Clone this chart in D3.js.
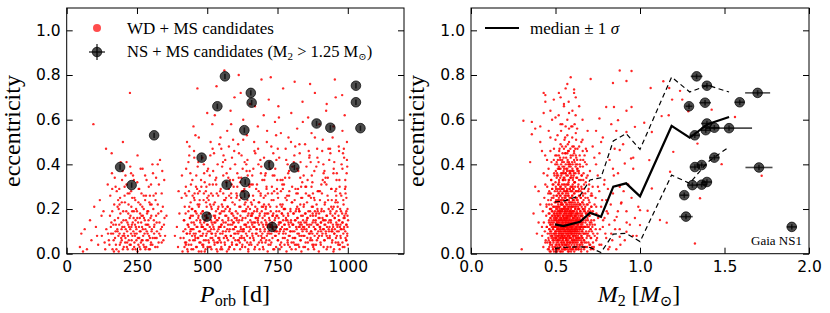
<!DOCTYPE html>
<head>
  <meta charset="utf-8">
  <script src="https://cdn.jsdelivr.net/npm/d3@7"></script>
</head>
<body style="margin:0;background:#fff">
  <script>
    // WD + MS candidates, [P_orb (d), eccentricity]
    var wdPorbEcc = [
      [47,.03],[52,.09],[58,.01],[83,.15],[88,.06],[95,.58],[104,.12],[112,.04],[118,.24],[125,.08],[131,.19],[137,.02],[141,.11],[146,.31],[150,.06],[154,.17],[158,.09],[161,.36],[163,.02],[166,.13],[169,.22],[172,.07],[175,.04],[178,.28],[180,.11],[183,.16],[185,.01],[188,.09],[190,.25],[192,.05],[195,.14],[197,.33],[199,.08],[201,.19],[203,.03],[205,.12],[207,.23],[209,.07],[211,.15],[213,.41],[215,.10],[217,.02],[219,.18],[221,.06],[223,.27],[225,.72],[226,.11],[228,.04],[230,.21],[232,.13],[234,.08],[236,.35],[238,.16],[240,.03],[242,.09],[244,.24],[246,.12],[248,.06],[250,.19],[252,.01],[254,.14],[256,.29],[258,.07],[260,.10],[262,.22],[264,.05],[266,.17],[268,.12],[270,.38],[272,.08],[274,.20],[276,.03],[278,.15],[280,.11],[282,.26],[284,.06],[286,.18],[288,.09],[290,.13],[292,.02],[294,.23],[296,.07],[298,.16],[300,.31],[302,.10],[305,.04],[308,.20],[311,.12],[314,.07],[317,.27],[320,.14],[323,.03],[326,.18],[329,.09],[332,.42],[335,.11],[338,.05],[342,.21],[346,.13],[350,.08],[355,.17],[340,.37],[160,.45],[200,.50],[140,.47],[270,.06],[255,.04],[245,.15],[235,.02],[215,.05],[205,.08],[195,.11],[185,.20],[175,.13],[165,.09],[230,.12],[260,.16],[280,.02],[300,.05],[290,.19],[310,.15],[320,.07],
      [152,.04],[157,.12],[162,.19],[167,.06],[171,.15],[174,.10],[177,.02],[181,.21],[184,.08],[187,.13],[189,.04],[191,.18],[194,.07],[196,.23],[198,.12],[200,.02],[202,.15],[204,.09],[206,.26],[208,.05],[210,.11],[212,.19],[214,.03],[216,.14],[218,.08],[220,.22],[222,.12],[224,.04],[227,.17],[229,.09],[231,.06],[233,.25],[235,.14],[237,.10],[239,.19],[241,.05],[243,.13],[245,.02],[247,.20],[249,.09],[251,.16],[253,.07],[255,.23],[257,.12],[259,.03],[261,.18],[263,.10],[265,.14],[267,.06],[269,.21],[271,.11],[273,.04],[275,.16],[277,.09],[279,.24],[281,.13],[283,.03],[285,.10],[287,.19],[289,.06],[291,.15],[293,.08],[295,.12],[297,.22],[299,.04],[301,.17],[303,.11],[306,.07],[309,.26],[312,.13],[315,.03],[318,.17],[321,.10],[324,.22],[327,.05],[330,.14],[333,.08],[336,.19],[339,.12],[344,.06],[348,.16],[187,.29],[213,.31],[239,.33],[266,.27],[292,.30],[318,.34],[226,.39],[252,.44],[279,.35],[305,.40],[174,.30],[199,.37],[168,.01],[243,.08],[262,.02],[286,.13],[224,.16],[248,.11],[233,.19],[219,.13],[271,.17],[296,.02],[311,.09],[196,.06],[181,.10],[159,.14],[147,.09],[124,.17],[135,.05],[108,.08],[98,.21],[72,.02],[64,.11],
      [155,.26],[171,.34],[183,.24],[192,.41],[206,.30],[217,.27],[229,.36],[241,.25],[251,.32],[263,.38],[274,.26],[284,.33],[296,.26],[307,.36],[316,.24],[328,.31],[338,.27],[347,.33],[162,.29],[209,.35],[258,.29],[302,.22],[229,.28],[188,.22],[324,.40],
      [392,.12],[396,.03],[401,.18],[405,.07],[409,.25],[412,.01],[415,.10],[418,.15],[421,.05],[424,.30],[427,.09],[429,.02],[398,.28],[385,.08],[410,.35],
      [432,.13],[434,.04],[436,.21],[438,.09],[440,.36],[442,.17],[444,.02],[446,.11],[448,.26],[450,.06],[452,.14],[454,.43],[456,.08],[458,.19],[460,.03],[462,.12],[464,.29],[466,.07],[468,.16],[470,.01],[472,.22],[474,.10],[476,.05],[478,.33],[480,.13],[437,.48],[451,.57],[465,.74],[470,.52],[445,.20],[455,.24],[462,.18],[475,.15],[441,.11],[458,.07],
      [482,.08],[484,.19],[486,.04],[488,.27],[490,.11],[492,.15],[494,.02],[496,.23],[498,.09],[500,.37],[502,.13],[504,.06],[506,.18],[508,.31],[510,.10],[512,.03],[514,.21],[516,.14],[518,.07],[520,.26],[522,.12],[524,.45],[526,.05],[528,.17],[530,.09],[532,.34],[534,.15],[536,.01],[538,.20],[540,.11],[485,.12],[495,.06],[505,.24],[515,.09],[525,.14],[535,.05],[488,.40],[512,.50],[527,.62],[533,.75],[518,.58],[497,.16],[507,.03],[523,.22],[539,.07],
      [542,.16],[544,.06],[546,.28],[548,.12],[550,.03],[552,.19],[554,.09],[556,.41],[558,.14],[560,.24],[562,.05],[564,.17],[566,.10],[568,.32],[570,.07],[572,.21],[574,.13],[576,.02],[578,.26],[580,.11],[582,.38],[584,.08],[586,.18],[588,.04],[590,.23],[592,.14],[594,.30],[596,.09],[598,.16],[600,.06],[545,.12],[555,.21],[565,.08],[575,.15],[585,.27],[595,.11],[550,.47],[561,.82],[571,.55],[583,.64],[592,.51],[597,.70],[557,.35],[579,.19],[589,.13],[547,.02],[567,.25],
      [602,.12],[604,.25],[606,.04],[608,.18],[610,.09],[612,.34],[614,.15],[616,.07],[618,.21],[620,.11],[622,.44],[624,.03],[626,.16],[628,.28],[630,.10],[632,.19],[634,.06],[636,.23],[638,.13],[640,.37],[642,.08],[644,.17],[646,.02],[648,.26],[650,.12],[652,.20],[654,.05],[656,.31],[658,.14],[660,.09],[605,.15],[615,.24],[625,.10],[635,.13],[645,.21],[655,.17],[610,.49],[628,.60],[641,.53],[652,.67],[619,.72],[633,.41],[607,.30],[623,.07],[637,.19],[649,.04],[659,.22],
      [662,.18],[664,.07],[666,.24],[668,.12],[670,.03],[672,.16],[674,.29],[676,.09],[678,.20],[680,.14],[682,.40],[684,.05],[686,.17],[688,.11],[690,.26],[692,.08],[694,.19],[696,.33],[698,.13],[700,.02],[702,.22],[704,.10],[706,.15],[708,.36],[710,.06],[712,.18],[714,.12],[716,.27],[718,.04],[720,.16],[665,.14],[675,.11],[685,.23],[695,.07],[705,.18],[715,.09],[668,.46],[680,.57],[693,.78],[701,.62],[712,.50],[719,.69],[677,.31],[689,.42],[699,.21],[709,.13],
      [722,.09],[724,.21],[726,.13],[728,.05],[730,.30],[732,.17],[734,.11],[736,.24],[738,.02],[740,.15],[742,.38],[744,.08],[746,.19],[748,.12],[750,.27],[752,.06],[754,.16],[756,.43],[758,.10],[760,.22],[762,.14],[764,.03],[766,.18],[768,.33],[770,.09],[772,.20],[774,.13],[776,.07],[778,.25],[780,.15],[725,.12],[735,.18],[745,.10],[755,.14],[765,.21],[775,.11],[728,.48],[741,.59],[753,.66],[762,.54],[770,.74],[779,.47],[733,.35],[748,.29],[759,.04],[771,.17],
      [782,.11],[784,.26],[786,.05],[788,.17],[790,.13],[792,.34],[794,.08],[796,.20],[798,.14],[800,.02],[802,.23],[804,.10],[806,.18],[808,.41],[810,.07],[812,.15],[814,.29],[816,.12],[818,.04],[820,.21],[822,.16],[824,.37],[826,.09],[828,.19],[830,.13],[832,.06],[834,.25],[836,.11],[838,.32],[840,.17],[785,.15],[795,.10],[805,.13],[815,.19],[825,.12],[835,.08],[789,.52],[799,.63],[811,.77],[820,.56],[829,.45],[839,.68],[803,.39],[817,.27],[827,.03],[833,.14],
      [842,.08],[844,.22],[846,.14],[848,.03],[850,.18],[852,.30],[854,.10],[856,.16],[858,.05],[860,.26],[862,.12],[864,.44],[866,.19],[868,.07],[870,.13],[872,.35],[874,.09],[876,.21],[878,.15],[880,.02],[882,.24],[884,.11],[886,.17],[888,.39],[890,.06],[892,.20],[894,.13],[896,.28],[898,.08],[900,.16],[845,.11],[855,.13],[865,.09],[875,.18],[885,.14],[895,.10],[848,.49],[859,.61],[871,.54],[883,.72],[891,.47],[899,.58],[857,.33],[869,.25],[879,.04],[893,.19],
      [902,.12],[904,.04],[906,.19],[908,.27],[910,.09],[912,.15],[914,.36],[916,.06],[918,.22],[920,.13],[922,.10],[924,.31],[926,.17],[928,.03],[930,.24],[932,.11],[934,.42],[936,.08],[938,.18],[940,.14],[942,.29],[944,.05],[946,.20],[948,.12],[950,.38],[952,.09],[954,.16],[956,.23],[958,.07],[960,.13],[905,.14],[915,.11],[925,.08],[935,.15],[945,.10],[955,.18],[911,.51],[923,.64],[937,.47],[949,.57],[957,.70],[929,.34],[941,.21],[951,.02],[959,.26],
      [962,.10],[964,.21],[966,.05],[968,.15],[970,.33],[972,.12],[974,.08],[976,.19],[978,.40],[980,.14],[982,.03],[984,.24],[986,.11],[988,.17],[990,.29],[992,.07],[994,.13],[996,.36],[998,.09],[999,.20],[965,.13],[975,.11],[985,.16],[995,.06],[969,.46],[981,.55],[989,.62],[997,.50],[973,.27],[987,.43],[993,.18],[999,.12],[1001,.15],[1000,.04],
      [416,.07],[417,.15],[419,.03],[420,.21],[422,.11],[423,.18],[425,.05],[426,.26],[428,.09],[430,.13],[431,.01],[433,.19],[434,.12],[435,.28],[437,.06],[439,.16],[440,.10],[441,.23],[443,.04],[444,.14],[446,.08],[447,.20],[449,.17],[450,.02],[451,.11],[453,.25],[455,.13],[456,.06],[457,.19],[459,.09],[460,.30],[462,.15],[463,.03],[465,.12],[466,.22],[468,.07],[469,.17],[471,.10],[472,.05],[473,.24],[475,.14],[476,.08],[478,.18],[479,.01],[480,.12],[467,.27],[452,.09],[438,.16],[424,.04],[470,.21],
      [481,.12],[482,.04],[484,.19],[485,.09],[487,.24],[488,.06],[489,.14],[491,.01],[492,.17],[494,.11],[495,.28],[496,.08],[498,.21],[499,.13],[501,.03],[502,.16],[503,.10],[505,.26],[506,.05],[508,.18],[509,.12],[510,.22],[512,.07],[513,.15],[515,.02],[516,.20],[517,.09],[519,.13],[520,.31],[522,.06],[523,.17],[524,.11],[526,.04],[527,.23],[529,.14],[530,.08],[531,.19],[533,.02],[534,.27],[536,.10],[537,.15],[538,.05],[540,.21],[541,.12],[543,.07],[544,.18],[486,.03],[500,.25],[514,.11],[528,.16],
      [546,.09],[547,.18],[549,.05],[550,.13],[552,.22],[553,.02],[554,.15],[556,.10],[557,.27],[559,.07],[560,.19],[561,.12],[563,.04],[564,.24],[566,.14],[567,.08],[568,.17],[570,.01],[571,.11],[573,.21],[574,.06],[575,.16],[577,.29],[578,.10],[580,.03],[581,.20],[582,.13],[584,.08],[585,.25],[587,.15],[588,.05],[589,.18],[591,.11],[592,.33],[594,.07],[595,.14],[596,.02],[598,.22],[599,.12],[601,.09],[602,.19],[603,.04],[605,.16],[606,.26],[608,.10],[609,.06],[551,.13],[565,.20],[579,.03],[593,.17],
      [611,.14],[612,.06],[614,.21],[615,.10],[617,.02],[618,.17],[619,.12],[621,.25],[622,.08],[624,.15],[625,.04],[626,.19],[628,.11],[629,.28],[631,.07],[632,.13],[633,.22],[635,.03],[636,.16],[638,.09],[639,.20],[640,.12],[642,.05],[643,.24],[645,.14],[646,.01],[647,.18],[649,.10],[650,.30],[652,.07],[653,.15],[654,.11],[656,.23],[657,.04],[659,.17],[660,.13],[661,.08],[663,.26],[664,.12],[666,.06],[667,.19],[668,.02],[670,.14],[671,.21],[673,.09],[674,.16],[616,.05],[630,.11],[644,.35],[658,.18],
      [676,.11],[677,.19],[679,.04],[680,.15],[682,.08],[683,.23],[684,.13],[686,.02],[687,.18],[689,.10],[690,.27],[691,.06],[693,.14],[694,.21],[696,.09],[697,.16],[698,.03],[700,.12],[701,.25],[703,.07],[704,.17],[705,.11],[707,.05],[708,.20],[710,.14],[711,.29],[712,.08],[714,.13],[715,.01],[717,.18],[718,.10],[719,.22],[721,.06],[722,.15],[724,.12],[725,.04],[726,.19],[728,.09],[729,.24],[731,.14],[732,.07],[733,.17],[735,.02],[736,.12],[738,.28],[739,.10],[681,.16],[695,.05],[709,.21],[723,.13],
      [741,.08],[742,.16],[744,.12],[745,.03],[747,.21],[748,.10],[749,.17],[751,.06],[752,.25],[754,.13],[755,.09],[756,.19],[758,.02],[759,.14],[761,.11],[762,.28],[763,.05],[765,.18],[766,.12],[768,.22],[769,.07],[770,.15],[772,.10],[773,.31],[775,.04],[776,.13],[777,.20],[779,.09],[780,.16],[782,.01],[783,.24],[784,.11],[786,.06],[787,.18],[789,.14],[790,.08],[791,.26],[793,.12],[794,.03],[796,.19],[797,.10],[798,.15],[800,.05],[801,.23],[803,.13],[804,.07],[746,.17],[760,.11],[774,.20],[788,.04],
      [806,.13],[807,.05],[808,.18],[810,.10],[811,.24],[813,.07],[814,.15],[815,.02],[817,.20],[818,.11],[820,.16],[821,.09],[822,.27],[824,.04],[825,.14],[827,.19],[828,.08],[829,.12],[831,.22],[832,.06],[834,.17],[835,.01],[836,.13],[838,.25],[839,.10],[841,.15],[842,.03],[843,.21],[845,.12],[846,.08],[848,.18],[849,.30],[850,.05],[852,.14],[853,.11],[855,.23],[856,.07],[857,.16],[859,.02],[860,.19],[862,.09],[863,.13],[864,.26],[866,.06],[867,.17],[869,.10],[812,.04],[826,.20],[840,.12],[854,.15],
      [870,.10],[872,.21],[873,.06],[875,.14],[876,.17],[877,.03],[879,.12],[880,.25],[882,.08],[883,.19],[884,.11],[886,.15],[887,.04],[889,.22],[890,.13],[891,.09],[893,.28],[894,.07],[896,.16],[897,.01],[898,.18],[900,.12],[901,.24],[903,.05],[904,.14],[905,.10],[907,.20],[908,.08],[910,.16],[911,.33],[912,.11],[914,.03],[915,.19],[917,.13],[918,.06],[919,.23],[921,.15],[922,.09],[924,.17],[925,.02],[926,.12],[928,.26],[929,.07],[931,.14],[932,.20],[933,.10],[874,.04],[888,.18],[902,.11],[916,.15],
      [935,.12],[936,.07],[938,.19],[939,.03],[940,.15],[942,.10],[943,.24],[945,.06],[946,.17],[947,.13],[949,.01],[950,.21],[952,.09],[953,.16],[954,.11],[956,.28],[957,.05],[959,.14],[960,.19],[961,.08],[963,.12],[964,.23],[966,.04],[967,.17],[968,.10],[970,.15],[971,.02],[973,.20],[974,.13],[975,.07],[977,.26],[978,.11],[980,.18],[981,.05],[982,.14],[984,.09],[985,.22],[987,.12],[988,.03],[989,.16],[991,.10],[992,.30],[994,.06],[995,.19],[996,.13],[998,.08],[999,.17],[944,.11],[958,.24],[972,.04],
      [425,.38],[447,.33],[468,.41],[489,.36],[511,.44],[532,.31],[553,.39],[575,.34],[596,.46],[617,.32],[639,.40],[660,.35],[681,.47],[703,.33],[724,.38],[746,.42],[767,.31],[788,.36],[810,.44],[831,.34],[853,.39],[874,.32],[896,.41],[917,.37],[938,.45],[960,.33],[981,.38],[997,.42],[436,.44],[479,.30],[521,.37],[564,.42],[607,.36],[649,.31],[692,.39],[735,.45],[777,.34],[820,.38],[863,.43],[906,.31],[949,.36],[991,.33],[458,.53],[543,.49],[628,.51],[713,.55],[798,.50],[883,.52],[968,.48],[500,.63],[585,.58],[670,.66],[755,.61],[840,.59],[925,.67],[980,.71],[612,.80],[726,.79],[866,.76],[954,.78],
      [421,.27],[433,.41],[442,.31],[453,.46],[461,.35],[473,.28],[483,.43],[491,.32],[503,.38],[514,.27],[519,.47],[529,.33],[537,.40],[548,.29],[558,.44],[569,.36],[577,.48],[587,.31],[599,.40],[604,.27],[613,.45],[621,.34],[632,.29],[643,.42],[651,.37],[662,.31],[671,.45],[683,.28],[691,.36],[702,.43],[711,.30],[721,.41],[730,.27],[739,.35],[751,.47],[761,.33],[769,.29],[781,.42],[791,.37],[802,.30],[813,.48],[823,.29],[832,.41],[843,.35],[851,.27],[861,.46],[871,.30],[881,.37],[892,.43],[901,.28],[913,.40],[921,.34],[931,.47],[941,.29],[952,.41],[961,.36],[971,.30],[983,.45],[992,.27],[998,.39],
      [428,.50],[466,.39],[509,.35],[547,.52],[588,.43],[626,.38],[667,.50],[706,.35],[745,.53],[786,.40],[828,.49],[868,.41],[909,.46],[946,.52],[986,.47],[455,.27],[497,.30],[539,.26],[581,.33],[623,.28],[664,.38],[707,.26],[749,.33],[792,.28],[834,.30],[876,.27],[918,.32],[959,.29],[995,.25]
    ];

    // WD + MS candidates, [M2 (Msun), eccentricity]
    var wdMassEcc = [
      [.448,.12],[.452,.05],[.447,.21],[.454,.09],[.451,.30],
      [.458,.07],[.462,.15],[.461,.02],[.457,.24],[.463,.11],[.459,.38],[.460,.18],
      [.468,.04],[.472,.13],[.471,.08],[.467,.20],[.473,.27],[.469,.10],[.470,.16],[.474,.33],[.466,.01],
      [.478,.09],[.482,.03],[.481,.14],[.477,.22],[.483,.06],[.479,.17],[.480,.29],[.484,.11],[.476,.41],[.482,.19],[.478,.25],
      [.488,.05],[.492,.12],[.491,.18],[.487,.02],[.493,.09],[.489,.26],[.490,.14],[.494,.35],[.486,.07],[.492,.21],[.488,.31],[.491,.47],[.489,.16],
      [.498,.08],[.502,.13],[.501,.03],[.497,.19],[.503,.24],[.499,.10],[.500,.06],[.504,.16],[.496,.28],[.502,.37],[.498,.12],[.501,.21],[.499,.44],[.503,.01],[.497,.15],[.500,.32],
      [.508,.04],[.512,.11],[.511,.17],[.507,.07],[.513,.23],[.509,.14],[.510,.02],[.514,.29],[.506,.09],[.512,.20],[.508,.35],[.511,.12],[.509,.26],[.513,.06],[.507,.41],[.510,.18],[.512,.53],[.508,.15],
      [.518,.06],[.522,.10],[.521,.15],[.517,.02],[.523,.19],[.519,.08],[.520,.24],[.524,.13],[.516,.31],[.522,.04],[.518,.17],[.521,.27],[.519,.11],[.523,.38],[.517,.21],[.520,.09],[.522,.46],[.518,.14],[.521,.33],[.519,.62],
      [.528,.03],[.532,.12],[.531,.07],[.527,.18],[.533,.22],[.529,.10],[.530,.15],[.534,.05],[.526,.26],[.532,.13],[.528,.30],[.531,.09],[.529,.19],[.533,.36],[.527,.01],[.530,.24],[.532,.16],[.528,.42],[.531,.11],[.529,.28],[.533,.55],[.530,.70],
      [.538,.08],[.542,.14],[.541,.04],[.537,.20],[.543,.11],[.539,.25],[.540,.06],[.544,.17],[.536,.12],[.542,.29],[.538,.02],[.541,.22],[.539,.09],[.543,.33],[.537,.15],[.540,.19],[.542,.39],[.538,.13],[.541,.27],[.539,.48],[.543,.07],[.537,.23],[.540,.58],[.542,.10],
      [.548,.05],[.552,.11],[.551,.16],[.547,.09],[.553,.21],[.549,.13],[.550,.02],[.554,.26],[.546,.07],[.552,.18],[.548,.31],[.551,.12],[.549,.24],[.553,.04],[.547,.36],[.550,.15],[.552,.20],[.548,.43],[.551,.10],[.549,.28],[.553,.51],[.547,.17],[.550,.66],[.552,.08],[.548,.34],
      [.558,.10],[.562,.04],[.561,.14],[.557,.19],[.563,.07],[.559,.23],[.560,.12],[.564,.28],[.556,.02],[.562,.16],[.558,.33],[.561,.09],[.559,.21],[.563,.38],[.557,.13],[.560,.25],[.562,.06],[.558,.45],[.561,.18],[.559,.30],[.563,.11],[.557,.52],[.560,.74],[.562,.27],[.558,.15],[.561,.40],
      [.568,.06],[.572,.13],[.571,.02],[.567,.17],[.573,.10],[.569,.22],[.570,.08],[.574,.26],[.566,.15],[.572,.31],[.568,.04],[.571,.19],[.569,.12],[.573,.35],[.567,.24],[.570,.09],[.572,.42],[.568,.16],[.571,.28],[.569,.05],[.573,.49],[.567,.20],[.570,.60],[.572,.11],[.568,.37],[.571,.14],
      [.578,.09],[.582,.15],[.581,.05],[.577,.20],[.583,.12],[.579,.01],[.580,.24],[.584,.07],[.576,.17],[.582,.29],[.578,.11],[.581,.33],[.579,.14],[.583,.22],[.577,.03],[.580,.39],[.582,.18],[.578,.26],[.581,.08],[.579,.46],[.583,.13],[.577,.31],[.580,.56],[.582,.10],[.578,.68],[.581,.21],
      [.588,.07],[.592,.12],[.591,.18],[.587,.03],[.593,.23],[.589,.10],[.590,.15],[.594,.28],[.586,.05],[.592,.20],[.588,.34],[.591,.13],[.589,.25],[.593,.09],[.587,.40],[.590,.17],[.592,.02],[.588,.47],[.591,.11],[.589,.30],[.593,.57],[.587,.19],[.590,.79],[.592,.14],[.588,.36],
      [.598,.11],[.602,.05],[.601,.16],[.597,.21],[.603,.08],[.599,.26],[.600,.13],[.604,.02],[.596,.18],[.602,.31],[.598,.10],[.601,.23],[.599,.37],[.603,.15],[.597,.06],[.600,.28],[.602,.44],[.598,.12],[.601,.19],[.599,.52],[.603,.33],[.597,.09],[.600,.64],[.602,.24],
      [.608,.08],[.612,.14],[.611,.03],[.607,.19],[.613,.11],[.609,.24],[.610,.06],[.614,.17],[.606,.29],[.612,.10],[.608,.35],[.611,.21],[.609,.13],[.613,.41],[.607,.16],[.610,.27],[.612,.04],[.608,.48],[.611,.32],[.609,.09],[.613,.58],[.610,.72],
      [.618,.10],[.622,.05],[.621,.15],[.617,.20],[.623,.12],[.619,.25],[.620,.02],[.624,.18],[.616,.30],[.622,.08],[.618,.36],[.621,.14],[.619,.22],[.623,.43],[.617,.11],[.620,.28],[.622,.51],[.618,.17],[.621,.07],[.619,.62],
      [.628,.06],[.632,.13],[.631,.18],[.627,.09],[.633,.23],[.629,.15],[.630,.03],[.634,.28],[.626,.11],[.632,.20],[.628,.34],[.631,.16],[.629,.40],[.633,.07],[.627,.25],[.630,.47],[.632,.12],[.628,.56],
      [.638,.09],[.642,.15],[.641,.04],[.637,.20],[.643,.12],[.639,.26],[.640,.07],[.644,.18],[.636,.31],[.642,.10],[.638,.37],[.641,.22],[.639,.14],[.643,.44],[.637,.02],[.640,.29],
      [.648,.11],[.652,.05],[.651,.17],[.647,.22],[.653,.08],[.649,.28],[.650,.14],[.654,.35],[.646,.19],[.652,.02],[.648,.42],[.651,.12],[.649,.25],[.653,.50],
      [.658,.07],[.662,.14],[.661,.20],[.657,.10],[.663,.26],[.659,.04],[.660,.17],[.664,.33],[.656,.12],[.662,.39],[.658,.23],[.661,.46],
      [.668,.09],[.672,.16],[.671,.03],[.667,.22],[.673,.12],[.669,.29],[.670,.06],[.674,.19],[.666,.36],[.672,.44],
      [.678,.12],[.682,.05],[.681,.18],[.677,.25],[.683,.09],[.679,.32],[.680,.15],[.684,.40],[.676,.21],
      [.688,.08],[.692,.15],[.691,.22],[.687,.03],[.693,.28],[.689,.12],[.690,.35],[.692,.18],
      [.698,.10],[.702,.17],[.701,.04],[.697,.24],[.703,.13],[.699,.31],[.700,.20],
      [.708,.07],[.712,.14],[.711,.21],[.707,.11],[.713,.27],[.709,.02],
      [.718,.12],[.722,.05],[.721,.19],[.717,.26],[.723,.09],
      [.728,.15],[.732,.08],[.731,.22],[.727,.03],
      [.738,.11],[.742,.18],[.741,.06],[.737,.25],
      [.748,.09],[.752,.16],[.751,.30],
      [.460,.06],[.461,.14],[.462,.22],[.463,.03],[.464,.11],[.465,.18],[.466,.09],[.467,.27],[.468,.13],[.469,.05],[.470,.20],[.471,.16],[.472,.01],[.473,.24],[.474,.10],[.475,.33],[.476,.07],[.477,.15],[.478,.12],[.479,.19],[.480,.04],[.481,.29],[.482,.08],[.483,.17],[.484,.13],[.485,.02],[.486,.21],[.487,.11],[.488,.25],[.489,.06],[.490,.15],[.491,.09],[.492,.36],[.493,.18],[.494,.03],[.495,.12],[.496,.23],[.497,.07],[.498,.16],[.499,.10],[.463,.28],[.467,.05],[.471,.14],[.475,.20],[.479,.08],[.483,.31],[.487,.12],[.491,.01],[.495,.17],[.499,.40],
      [.500,.09],[.500,.17],[.501,.04],[.501,.23],[.502,.12],[.502,.30],[.503,.07],[.503,.15],[.504,.20],[.504,.02],[.505,.13],[.505,.26],[.506,.10],[.506,.18],[.507,.05],[.507,.34],[.508,.14],[.508,.08],[.509,.21],[.509,.11],[.510,.01],[.510,.16],[.511,.28],[.511,.06],[.512,.19],[.512,.13],[.513,.24],[.513,.03],[.514,.11],[.514,.38],[.515,.17],[.515,.08],[.516,.22],[.516,.14],[.517,.05],[.517,.27],[.518,.10],[.518,.19],[.519,.12],[.519,.02],[.520,.15],[.520,.25],[.521,.07],[.521,.32],[.522,.18],[.522,.09],[.523,.13],[.523,.04],[.524,.21],[.524,.16],[.525,.11],[.525,.29],[.526,.06],[.526,.20],[.527,.14],[.527,.43],[.528,.08],[.528,.17],[.529,.03],[.529,.23],[.530,.12],[.530,.19],[.531,.07],[.531,.26],[.532,.10],[.532,.15],[.533,.01],[.533,.22],[.534,.13],[.534,.35],[.535,.09],[.535,.18],[.536,.05],[.536,.24],[.537,.11],[.537,.16],[.538,.31],[.538,.08],[.539,.20],[.539,.14],
      [.540,.12],[.540,.04],[.541,.19],[.541,.27],[.542,.08],[.542,.15],[.543,.22],[.543,.01],[.544,.11],[.544,.17],[.545,.33],[.545,.06],[.546,.14],[.546,.24],[.547,.09],[.547,.20],[.548,.03],[.548,.13],[.549,.29],[.549,.16],[.550,.07],[.550,.21],[.551,.11],[.551,.38],[.552,.05],[.552,.18],[.553,.12],[.553,.25],[.554,.02],[.554,.15],[.555,.10],[.555,.31],[.556,.19],[.556,.08],[.557,.14],[.557,.23],[.558,.04],[.558,.17],[.559,.12],[.559,.45],[.560,.07],[.560,.20],[.561,.13],[.561,.02],[.562,.26],[.562,.10],[.563,.16],[.563,.06],[.564,.22],[.564,.14],[.565,.35],[.565,.09],[.566,.18],[.566,.03],[.567,.12],[.567,.28],[.568,.07],[.568,.19],[.569,.15],[.569,.11],[.570,.24],[.570,.05],[.571,.17],[.571,.41],[.572,.10],[.572,.13],[.573,.21],[.573,.08],[.574,.01],[.574,.16],[.575,.27],[.575,.12],[.576,.06],[.576,.20],[.577,.14],[.577,.32],[.578,.09],[.578,.18],[.579,.04],[.579,.23],[.580,.11],[.580,.15],[.581,.37],[.581,.07],[.582,.19],[.582,.13],[.583,.02],[.583,.25],[.584,.10],[.584,.17],
      [.585,.08],[.585,.16],[.586,.23],[.586,.03],[.587,.12],[.587,.19],[.588,.10],[.588,.28],[.589,.05],[.589,.14],[.590,.21],[.590,.09],[.591,.17],[.591,.34],[.592,.01],[.592,.13],[.593,.25],[.593,.07],[.594,.18],[.594,.11],[.595,.22],[.595,.04],[.596,.15],[.596,.30],[.597,.09],[.597,.12],[.598,.19],[.598,.06],[.599,.26],[.599,.14],[.600,.02],[.600,.17],[.601,.10],[.601,.40],[.602,.08],[.602,.21],[.603,.13],[.603,.05],[.604,.24],[.604,.16],[.605,.11],[.605,.29],[.606,.07],[.606,.18],[.607,.03],[.607,.14],[.608,.22],[.608,.10],[.609,.36],[.609,.12],[.610,.06],[.610,.19],[.611,.15],[.611,.01],[.612,.27],[.612,.09],[.613,.17],[.613,.13],[.614,.23],[.614,.05],[.615,.11],[.615,.32],[.616,.16],[.616,.08],[.617,.20],[.617,.14],[.618,.03],[.618,.25],[.619,.10],[.619,.18],[.620,.44],[.620,.06],[.621,.12],[.621,.21],[.622,.15],[.622,.09],[.623,.28],[.623,.02],[.624,.17],[.624,.13],[.625,.24],[.625,.07],[.626,.19],[.626,.11],[.627,.38],[.627,.04],[.628,.16],[.628,.22],[.629,.10],[.629,.14],
      [.630,.10],[.631,.18],[.631,.05],[.632,.24],[.633,.13],[.633,.08],[.634,.21],[.635,.15],[.635,.02],[.636,.28],[.637,.11],[.637,.17],[.638,.06],[.639,.33],[.639,.14],[.640,.09],[.641,.20],[.641,.03],[.642,.12],[.643,.26],[.643,.16],[.644,.07],[.645,.22],[.645,.11],[.646,.39],[.647,.04],[.647,.15],[.648,.19],[.649,.09],[.649,.13],[.650,.25],[.651,.06],[.651,.17],[.652,.01],[.653,.30],[.653,.12],[.654,.08],[.655,.21],[.655,.14],[.656,.35],[.657,.05],[.657,.18],[.658,.10],[.659,.23],[.659,.13],[.660,.07],[.661,.27],[.661,.16],[.662,.03],[.663,.20],[.663,.11],[.664,.42],[.665,.09],[.665,.15],[.666,.24],[.667,.06],[.667,.12],[.668,.19],[.669,.02],[.669,.31],
      [.671,.12],[.672,.05],[.673,.20],[.675,.09],[.676,.27],[.677,.14],[.679,.03],[.680,.18],[.681,.10],[.683,.34],[.684,.07],[.685,.22],[.687,.13],[.688,.01],[.689,.16],[.691,.25],[.692,.09],[.693,.19],[.695,.05],[.696,.29],[.697,.12],[.699,.17],[.700,.08],[.701,.23],[.703,.14],[.704,.37],[.705,.04],[.707,.19],[.708,.11],[.709,.26],[.711,.07],[.712,.15],[.713,.21],[.715,.10],[.716,.03],[.717,.18],[.719,.13],[.720,.30],[.674,.41],[.686,.46],
      [.503,.29],[.509,.36],[.514,.42],[.519,.31],[.524,.47],[.528,.34],[.533,.40],[.537,.29],[.542,.45],[.546,.33],[.551,.39],[.555,.28],[.559,.36],[.563,.43],[.566,.31],[.570,.38],[.574,.46],[.578,.33],[.582,.40],[.586,.29],[.590,.44],[.594,.35],[.598,.41],[.602,.30],[.606,.37],[.610,.45],[.614,.32],[.619,.39],[.623,.34],[.628,.42],[.633,.30],[.638,.36],[.644,.40],[.650,.33],[.656,.29],[.516,.35],[.531,.30],[.548,.37],[.561,.48],[.576,.40],[.589,.37],[.604,.34],[.617,.47],[.631,.38],[.507,.44],[.521,.38],[.539,.41],[.553,.34],[.568,.29],[.584,.36],
      [.421,.08],[.425,.19],[.428,.03],[.431,.14],[.434,.25],[.437,.10],[.440,.31],[.442,.06],[.445,.17],[.447,.22],[.449,.12],[.452,.35],[.455,.02],[.457,.27],[.439,.44],
      [.51,.40],[.52,.44],[.53,.49],[.54,.42],[.55,.47],[.56,.36],[.57,.45],[.58,.50],[.59,.43],[.60,.38],[.61,.46],[.62,.40],[.63,.37],[.64,.48],[.53,.38],[.55,.41],[.57,.53],[.59,.39],[.61,.42],[.56,.57],[.58,.41],[.60,.48],[.50,.51],[.52,.39],[.54,.36],[.62,.54],[.66,.51],[.68,.47],[.49,.42],[.47,.46],
      [.725,.02],[.733,.13],[.741,.21],[.746,.07],[.754,.17],[.759,.28],[.763,.11],[.771,.04],[.776,.24],[.782,.15],[.788,.31],[.795,.09],[.803,.19],[.812,.02],[.818,.13],[.827,.22],[.836,.06],[.845,.35],[.853,.11],[.869,.19],[.884,.04],[.903,.28],[.921,.14],[.958,.08],[.99,.21],
      [.30,.02],[.35,.41],[.36,.59],[.38,.56],[.37,.18],[.39,.09],[.40,.28],[.41,.50],[.42,.12],[.43,.36],[.44,.05],[.42,.46],[.41,.22],[.43,.63],[.44,.68],[.40,.14],[.38,.30],[.44,.71],[.43,.72],[.45,.42],[.46,.55],[.47,.52],[.48,.60],
      [.31,.595],[.36,.535],[.41,.57],[.52,.72],[.61,.735],[.708,.782],[.88,.82],[.95,.818],[.92,.773],[.84,.764],[1.063,.742],[1.138,.772],[1.173,.742],[1.237,.729],[1.19,.69],[1.25,.69],[1.128,.616],[1.17,.62],[1.286,.638],[1.424,.645],[1.562,.612],[1.34,.493],[1.197,.456],[.88,.464],[.92,.545],[.97,.568],[1.025,.586],[1.07,.545],[.80,.657],[.846,.657],[.92,.64],[.95,.657],[.87,.598],[.76,.605],
      [1.178,.367],[1.055,.419],[.947,.426],[.96,.43],[.91,.404],[1.07,.292],[1.0,.195],[1.045,.192],[1.118,.151],[1.158,.139],[1.0,.128],[.88,.076],[.92,.098],[1.325,.046],[1.483,.401],[1.72,.349],[1.355,.248],[.888,.225],[.862,.165],
      [.76,.04],[.77,.21],[.78,.12],[.79,.33],[.80,.07],[.81,.18],[.82,.42],[.83,.09],[.84,.27],[.85,.15],[.86,.02],[.87,.36],[.88,.11],[.89,.23],[.90,.49],[.91,.06],[.92,.19],[.93,.31],[.94,.13],[.96,.38],[.98,.08],[.76,.45],[.78,.52],[.79,.16],[.81,.29],[.83,.58],[.85,.47],[.74,.40],[.75,.35],[.77,.50],[.80,.24],[.82,.03],[.84,.38],[.86,.55],[.88,.30],[.73,.43],[.74,.55],[.72,.48],[.95,.25],[.97,.16],
      [.47,.64],[.49,.69],[.50,.61],[.58,.63],[.64,.66],[.66,.60],[.69,.55],[.62,.70],[.57,.76],[.53,.58],[.60,.57],[.55,.67]
    ];

    // NS + MS candidates (M2 > 1.25 Msun)
    var nsPorb    = [563, 1029, 655, 1029, 658, 536, 889, 938, 1045, 632, 311, 480, 720, 190, 810, 231, 569, 635, 633, 498, 731];
    var nsEcc     = [.794, .752, .720, .678, .676, .660, .583, .564, .562, .553, .530, .430, .397, .388, .386, .307, .309, .321, .262, .166, .120];
    var nsEccErr  = [.012, .012, .012, .012, .012, .012, .012, .012, .012, .012, .012, .012, .012, .012, .012, .012, .012, .012, .012, .012, .012];
    var nsMass    = [1.335, 1.396, 1.696, 1.590, 1.385, 1.290, 1.396, 1.440, 1.527, 1.389, 1.324, 1.440, 1.365, 1.325, 1.704, 1.310, 1.365, 1.396, 1.262, 1.272, 1.898];
    var nsMassErr = [.035, .030, .074, .030, .035, .020, .035, .030, .136, .030, .030, .030, .030, .030, .080, .030, .030, .030, .025, .040, .030];

    // binned median and +/- 1 sigma in M2
    var medMass  = [.497, .546, .645, .704, .769, .842, .918, 1.0, 1.187, 1.294, 1.40, 1.527];
    var medEcc   = [.131, .124, .143, .183, .165, .300, .315, .257, .572, .519, .580, .612];
    var medUpper = [.232, .235, .260, .330, .340, .505, .538, .467, .791, .724, .754, .724];
    var medLower = [.024, .028, .031, .028, .005, .088, .091, .054, .352, .315, .410, .478];

    var eccTicks  = [0, 0.2, 0.4, 0.6, 0.8, 1.0];
    var porbTicks = [0, 250, 500, 750, 1000];
    var massTicks = [0, 0.5, 1.0, 1.5, 2.0];

    var serif = "'Liberation Serif', 'DejaVu Serif', serif";
    var sans = "'DejaVu Sans', sans-serif";
    var nsFill = "rgba(0,0,0,0.7)";

    var svg = d3.select("body").append("svg")
      .attr("width", 830)
      .attr("height", 313);

    var y = d3.scaleLinear().domain([0, 1.1]).range([253.7, 8]);
    var xP = d3.scaleLinear().domain([0, 1200]).range([66.7, 404]);
    var xM = d3.scaleLinear().domain([0, 2]).range([471, 809]);

    function drawAxes(x, xFmt, xTicks) {
      var g = svg.append("g");
      var x0 = x.range()[0], x1 = x.range()[1];
      var y0 = y.range()[0], y1 = y.range()[1];

      g.append("g").attr("transform", "translate(0," + y0 + ")")
        .call(d3.axisBottom(x).tickValues(xTicks).tickSize(-6).tickPadding(7).tickFormat(xFmt));
      g.append("g").attr("transform", "translate(0," + y1 + ")")
        .call(d3.axisTop(x).tickValues(xTicks).tickSize(-6).tickFormat(""));
      g.append("g").attr("transform", "translate(" + x0 + ",0)")
        .call(d3.axisLeft(y).tickValues(eccTicks).tickSize(-6).tickPadding(6).tickFormat(d3.format(".1f")));
      g.append("g").attr("transform", "translate(" + x1 + ",0)")
        .call(d3.axisRight(y).tickValues(eccTicks).tickSize(-6).tickFormat(""));

      g.selectAll(".domain").remove();
      g.selectAll(".tick line").attr("stroke", "#000").attr("stroke-width", 1);
      g.selectAll("text")
        .attr("font-family", sans)
        .attr("font-size", 15.5)
        .attr("fill", "#000");

      g.append("rect")
        .attr("x", x0).attr("y", y1)
        .attr("width", x1 - x0).attr("height", y0 - y1)
        .attr("fill", "none").attr("stroke", "#000").attr("stroke-width", 1);
    }

    function drawDots(data, x) {
      svg.append("g").selectAll("circle").data(data)
        .enter().append("circle")
          .attr("cx", function(d) { return x(d[0]); })
          .attr("cy", function(d) { return y(d[1]); })
          .attr("r", 1.2)
          .attr("fill", "#ff0000")
          .attr("fill-opacity", 0.85);
    }

    function drawNS(xs, xErr, x) {
      var g = svg.append("g");
      d3.range(nsEcc.length).forEach(function(i) {
        var cx = x(xs[i]), cy = y(nsEcc[i]);
        if (xErr) {
          g.append("line")
            .attr("x1", x(xs[i] - xErr[i])).attr("x2", x(xs[i] + xErr[i]))
            .attr("y1", cy).attr("y2", cy)
            .attr("stroke", nsFill).attr("stroke-width", 1.6);
        }
        g.append("line")
          .attr("x1", cx).attr("x2", cx)
          .attr("y1", y(nsEcc[i] - nsEccErr[i])).attr("y2", y(nsEcc[i] + nsEccErr[i]))
          .attr("stroke", nsFill).attr("stroke-width", 1.6);
        g.append("circle")
          .attr("cx", cx).attr("cy", cy).attr("r", 4.8)
          .attr("fill", nsFill).attr("stroke", nsFill).attr("stroke-width", 1);
      });
    }

    // left panel
    drawDots(wdPorbEcc, xP);
    drawNS(nsPorb, null, xP);
    drawAxes(xP, d3.format("d"), porbTicks);

    // right panel
    drawDots(wdMassEcc, xM);
    drawNS(nsMass, nsMassErr, xM);

    var line = d3.line()
      .x(function(d) { return xM(d[0]); })
      .y(function(d) { return y(d[1]); });

    [medUpper, medLower].forEach(function(band) {
      svg.append("path")
        .datum(d3.zip(medMass, band))
        .attr("d", line).attr("fill", "none")
        .attr("stroke", "#000").attr("stroke-width", 1.2).attr("stroke-dasharray", "5,3.5");
    });
    svg.append("path")
      .datum(d3.zip(medMass, medEcc))
      .attr("d", line).attr("fill", "none")
      .attr("stroke", "#000").attr("stroke-width", 2.2);

    drawAxes(xM, d3.format(".1f"), massTicks);

    // axis labels
    [20, 424].forEach(function(cx) {
      svg.append("text")
        .attr("transform", "translate(" + cx + ",131) rotate(-90)")
        .attr("text-anchor", "middle")
        .attr("font-family", serif).attr("font-size", 24)
        .text("eccentricity");
    });

    var lx = svg.append("text")
      .attr("x", 235).attr("y", 302)
      .attr("text-anchor", "middle")
      .attr("font-family", serif).attr("font-size", 24);
    lx.append("tspan").attr("font-style", "italic").text("P");
    lx.append("tspan").attr("font-size", 16).attr("dy", 4).text("orb");
    lx.append("tspan").attr("dy", -4).text(" [d]");

    var mx = svg.append("text")
      .attr("x", 639).attr("y", 302)
      .attr("text-anchor", "middle")
      .attr("font-family", serif).attr("font-size", 24);
    mx.append("tspan").attr("font-style", "italic").text("M");
    mx.append("tspan").attr("font-size", 16).attr("dy", 4).text("2");
    mx.append("tspan").attr("dy", -4).text(" [");
    mx.append("tspan").attr("font-style", "italic").text("M");
    mx.append("tspan").attr("font-size", 15).attr("dy", 4).text("\u2299");
    mx.append("tspan").attr("dy", -4).text("]");

    // left legend
    svg.append("circle")
      .attr("cx", 97).attr("cy", 28).attr("r", 4)
      .attr("fill", "#ff0000").attr("fill-opacity", 0.7);
    svg.append("text")
      .attr("x", 127).attr("y", 33.5)
      .attr("font-family", serif).attr("font-size", 17)
      .text("WD + MS candidates");

    svg.append("line").attr("x1", 89).attr("x2", 105).attr("y1", 52).attr("y2", 52)
      .attr("stroke", nsFill).attr("stroke-width", 1.6);
    svg.append("line").attr("x1", 97).attr("x2", 97).attr("y1", 44).attr("y2", 60)
      .attr("stroke", nsFill).attr("stroke-width", 1.6);
    svg.append("circle")
      .attr("cx", 97).attr("cy", 52).attr("r", 4.8)
      .attr("fill", nsFill).attr("stroke", nsFill);
    var leg2 = svg.append("text")
      .attr("x", 127).attr("y", 57)
      .attr("font-family", serif).attr("font-size", 16.5);
    leg2.append("tspan").text("NS + MS candidates (M");
    leg2.append("tspan").attr("font-size", 11).attr("dy", 3).text("2");
    leg2.append("tspan").attr("dy", -3).text(" > 1.25 M");
    leg2.append("tspan").attr("font-size", 10).attr("dy", 3).text("\u2299");
    leg2.append("tspan").attr("dy", -3).text(")");

    // right legend
    svg.append("line").attr("x1", 485).attr("x2", 519).attr("y1", 28).attr("y2", 28)
      .attr("stroke", "#000").attr("stroke-width", 2.2);
    var leg3 = svg.append("text")
      .attr("x", 530).attr("y", 33.5)
      .attr("font-family", serif).attr("font-size", 17);
    leg3.append("tspan").text("median \u00b1 1 ");
    leg3.append("tspan").attr("font-style", "italic").text("\u03c3");

    svg.append("text")
      .attr("x", 802).attr("y", 244.5)
      .attr("text-anchor", "end")
      .attr("font-family", serif).attr("font-size", 13)
      .text("Gaia NS1");
  </script>
</body>
